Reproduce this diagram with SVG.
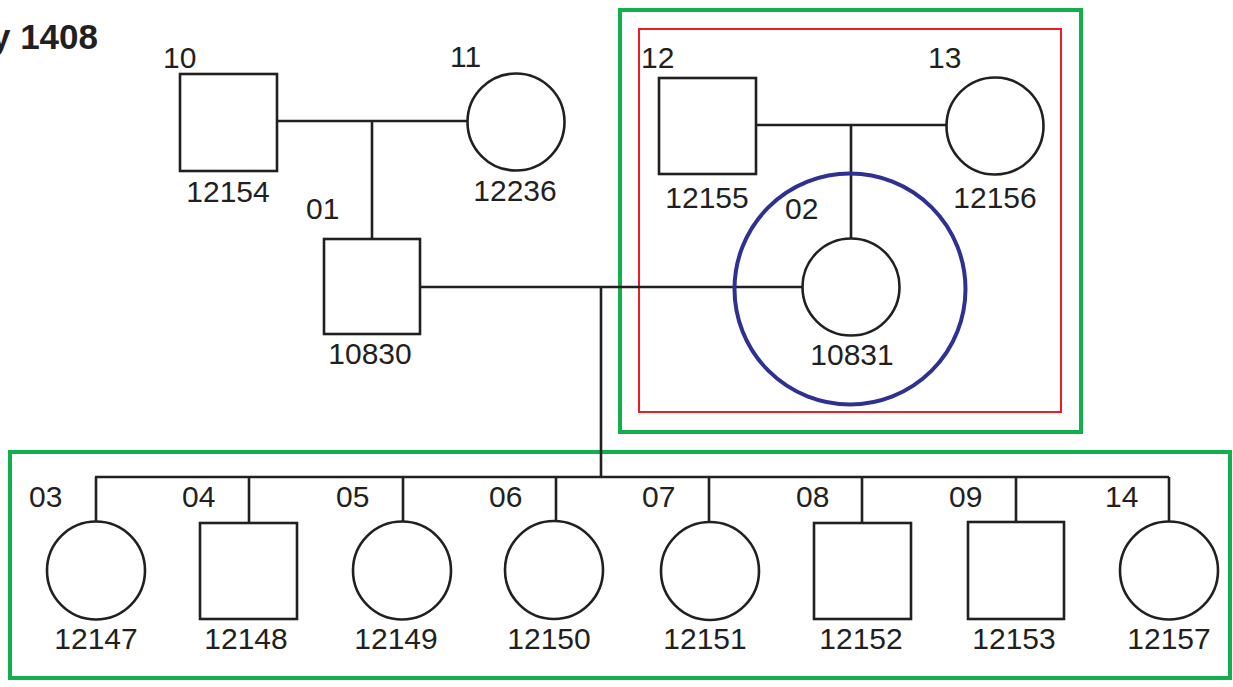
<svg xmlns="http://www.w3.org/2000/svg" width="1233" height="687" viewBox="0 0 1233 687">
<style>
  .sym { fill: #ffffff; stroke: #231f20; stroke-width: 2.6; }
  .con { fill: none; stroke: #231f20; stroke-width: 2.6; }
  .id { font-family: "Liberation Sans", Arial, sans-serif; font-size: 30px; fill: #231f20; }
  .num { font-family: "Liberation Sans", Arial, sans-serif; font-size: 30px; fill: #231f20; text-anchor: middle; }
  .title { font-family: "Liberation Sans", Arial, sans-serif; font-size: 35px; font-weight: bold; fill: #231f20; text-anchor: end; }
</style>
<rect x="0" y="0" width="1233" height="687" fill="#ffffff"/>
<text class="title" x="98" y="49">y 1408</text>

<g id="highlights" fill="none">
  <rect x="620" y="10" width="461" height="422" stroke="#12b04c" stroke-width="4"/>
  <rect x="639" y="29" width="422" height="383" stroke="#ed1c24" stroke-width="2"/>
  <rect x="10" y="452" width="1220" height="226" stroke="#12b04c" stroke-width="4"/>
</g>

<g id="connectors">
  <line class="con" x1="277" y1="121" x2="468" y2="121"/>
  <line class="con" x1="372" y1="121" x2="372" y2="239"/>
  <line class="con" x1="756" y1="125" x2="947" y2="125"/>
  <line class="con" x1="851" y1="125" x2="851" y2="239"/>
  <line class="con" x1="420" y1="287" x2="803" y2="287"/>
  <line class="con" x1="601" y1="287" x2="601" y2="477"/>
  <line class="con" x1="95" y1="477" x2="1169" y2="477"/>
  <line class="con" x1="96" y1="477" x2="96" y2="522"/>
  <line class="con" x1="249" y1="477" x2="249" y2="523"/>
  <line class="con" x1="403" y1="477" x2="403" y2="522"/>
  <line class="con" x1="556" y1="477" x2="556" y2="521"/>
  <line class="con" x1="709" y1="477" x2="709" y2="522"/>
  <line class="con" x1="862" y1="477" x2="862" y2="523"/>
  <line class="con" x1="1016" y1="477" x2="1016" y2="522"/>
  <line class="con" x1="1169" y1="477" x2="1169" y2="522"/>
</g>

<g id="n10">
  <rect class="sym" x="180" y="74" width="97" height="97"/>
  <text class="id" x="163" y="68">10</text>
  <text class="num" x="228" y="202">12154</text>
</g>
<g id="n11">
  <circle class="sym" cx="516" cy="122" r="48.5"/>
  <text class="id" x="450" y="67">11</text>
  <text class="num" x="515" y="201">12236</text>
</g>
<g id="n12">
  <rect class="sym" x="659" y="78" width="97" height="96"/>
  <text class="id" x="641" y="68">12</text>
  <text class="num" x="707" y="208">12155</text>
</g>
<g id="n13">
  <circle class="sym" cx="995" cy="126" r="48.5"/>
  <text class="id" x="928" y="68">13</text>
  <text class="num" x="995" y="208">12156</text>
</g>
<g id="n01">
  <rect class="sym" x="324" y="239" width="96" height="95"/>
  <text class="id" x="306" y="219">01</text>
  <text class="num" x="370" y="364">10830</text>
</g>
<g id="n02">
  <circle cx="850" cy="289" r="115.5" fill="none" stroke="#2e3192" stroke-width="4"/>
  <circle class="sym" cx="851" cy="287" r="48.5"/>
  <text class="id" x="785" y="219">02</text>
  <text class="num" x="852" y="365">10831</text>
</g>
<g id="n03">
  <circle class="sym" cx="96" cy="570.5" r="49"/>
  <text class="id" x="29" y="507">03</text>
  <text class="num" x="96" y="649">12147</text>
</g>
<g id="n04">
  <rect class="sym" x="200" y="523" width="97" height="96"/>
  <text class="id" x="182" y="507">04</text>
  <text class="num" x="246" y="649">12148</text>
</g>
<g id="n05">
  <circle class="sym" cx="402" cy="570.5" r="49"/>
  <text class="id" x="336" y="507">05</text>
  <text class="num" x="396" y="649">12149</text>
</g>
<g id="n06">
  <circle class="sym" cx="554" cy="570" r="49"/>
  <text class="id" x="489" y="507">06</text>
  <text class="num" x="549" y="649">12150</text>
</g>
<g id="n07">
  <circle class="sym" cx="710" cy="571" r="49"/>
  <text class="id" x="642" y="507">07</text>
  <text class="num" x="705" y="649">12151</text>
</g>
<g id="n08">
  <rect class="sym" x="814" y="523" width="97" height="96"/>
  <text class="id" x="796" y="507">08</text>
  <text class="num" x="861" y="649">12152</text>
</g>
<g id="n09">
  <rect class="sym" x="968" y="522" width="96" height="97"/>
  <text class="id" x="949" y="507">09</text>
  <text class="num" x="1014" y="649">12153</text>
</g>
<g id="n14">
  <circle class="sym" cx="1169" cy="570.5" r="49"/>
  <text class="id" x="1105" y="507">14</text>
  <text class="num" x="1169" y="649">12157</text>
</g>
</svg>
